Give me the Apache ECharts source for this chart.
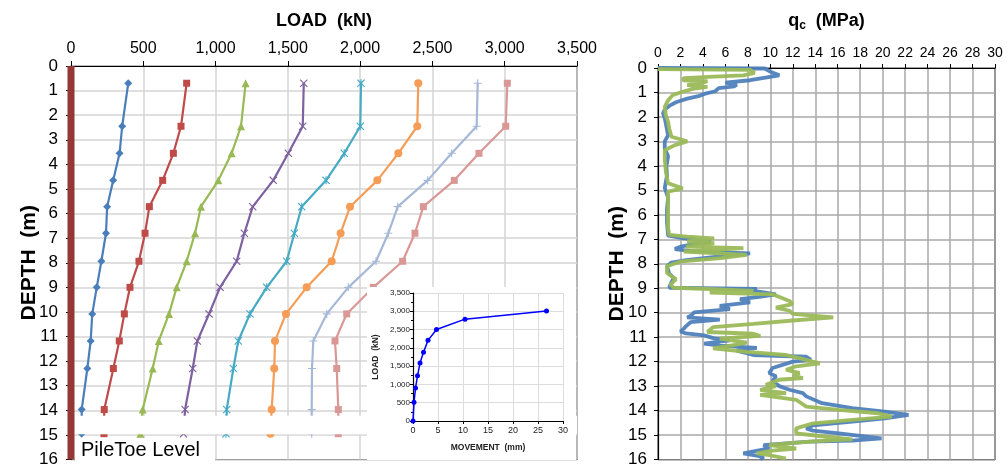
<!DOCTYPE html>
<html>
<head>
<meta charset="utf-8">
<script src="https://cdn.jsdelivr.net/npm/echarts@6/dist/echarts.min.js"></script>
<style>html,body{margin:0;padding:0;background:#fff;}#c{width:1007px;height:468px;}</style>
</head>
<body>
<div id="c"></div>
<script>
// ---------- DATA ----------
// Load distribution: gauge depths (m) and load (kN) for each load stage
const gaugeDepths = [0.7, 2.45, 3.55, 4.65, 5.72, 6.8, 7.94, 9.0, 10.08, 11.18, 12.3, 13.97, 14.95];
const load1 = [396, 354, 336, 292, 250, 242, 210, 178, 147, 136, 113, 74, 74];
const load2 = [800, 761, 708, 634, 542, 512, 470, 408, 369, 334, 293, 230, 228];
const load3 = [1208, 1176, 1111, 1019, 899, 858, 800, 731, 678, 607, 565, 496, 480];
const load4 = [1610, 1603, 1503, 1399, 1257, 1199, 1146, 1031, 955, 874, 842, 789, 778];
const load5 = [2006, 2001, 1890, 1764, 1596, 1545, 1492, 1354, 1238, 1157, 1123, 1077, 1072];
const load6 = [2402, 2395, 2264, 2119, 1930, 1865, 1803, 1630, 1487, 1411, 1406, 1388, 1380];
const load7 = [2813, 2806, 2633, 2467, 2260, 2195, 2110, 1918, 1769, 1676, 1667, 1665, 1665];
const load8 = [3018, 3007, 2822, 2651, 2437, 2379, 2294, 2091, 1907, 1826, 1838, 1849, 1849];
const loadTicks = [0, 500, 1000, 1500, 2000, 2500, 3000, 3500];

// Inset: load-movement curve
const movementMm = [0, 0.2, 0.5, 0.9, 1.4, 2.1, 3.0, 4.7, 10.4, 26.7];
const headLoadKn = [0, 510, 900, 1235, 1585, 1880, 2205, 2500, 2785, 3005];

// CPT qc profiles: [depth (m), qc (MPa)]
const cptBlue = [[0,0],[0.02,9.5],[0.15,10.0],[0.3,10.8],[0.38,9.7],[0.5,8.2],[0.6,6.0],[0.68,7.0],[0.75,6.8],[0.82,5.4],[0.95,5.1],[1.05,4.2],[1.15,3.6],[1.25,2.6],[1.4,1.6],[1.55,1.0],[1.7,0.6],[1.85,0.45],[2.05,0.6],[2.4,0.75],[2.75,0.9],[3.0,0.6],[3.3,0.6],[3.6,0.9],[4.0,0.75],[4.4,0.8],[4.9,0.6],[5.3,0.9],[5.75,0.8],[6.3,0.8],[6.85,0.9],[6.95,2.2],[7.05,4.0],[7.12,4.7],[7.2,3.2],[7.3,2.0],[7.4,1.5],[7.48,3.0],[7.58,8.2],[7.65,6.5],[7.75,4.5],[7.85,2.5],[7.95,1.2],[8.1,0.8],[8.4,1.0],[8.58,1.4],[8.85,1.1],[8.98,1.0],[9.03,8.8],[9.1,8.4],[9.25,10.5],[9.35,9.0],[9.45,7.3],[9.58,8.2],[9.72,5.5],[9.85,6.4],[9.99,3.2],[10.1,3.0],[10.19,2.6],[10.28,5.5],[10.39,2.9],[10.55,2.5],[10.65,2.3],[10.77,2.0],[10.85,2.5],[10.93,4.1],[11.05,5.0],[11.13,6.4],[11.26,4.1],[11.35,5.5],[11.44,8.8],[11.55,7.0],[11.73,8.5],[11.8,13.2],[11.92,13.6],[12.0,12.0],[12.26,10.2],[12.47,9.9],[12.6,10.5],[12.8,10.2],[13.0,10.8],[13.15,11.7],[13.29,12.9],[13.42,13.2],[13.7,14.6],[13.9,17.3],[14.04,20.2],[14.18,22.3],[14.32,20.2],[14.45,17.3],[14.6,13.8],[14.73,13.2],[14.82,13.8],[14.93,16.1],[15.14,19.9],[15.23,17.3],[15.27,13.5],[15.34,11.4],[15.41,9.4],[15.55,9.9],[15.62,9.1],[15.75,7.6],[15.82,8.5],[15.89,9.4],[16.0,9.1]];
const cptGreen = [[0.05,0],[0.08,8.2],[0.2,8.6],[0.3,7.6],[0.35,5.0],[0.41,2.3],[0.5,2.2],[0.54,4.4],[0.62,3.8],[0.7,2.6],[0.77,4.4],[0.84,3.2],[0.98,2.1],[1.11,1.3],[1.32,0.9],[1.59,0.6],[1.93,0.7],[2.2,0.9],[2.47,1.0],[2.81,1.2],[3.0,2.6],[3.15,1.5],[3.36,0.6],[3.7,0.6],[4.24,0.7],[4.71,0.9],[4.92,2.2],[5.05,0.9],[5.46,0.9],[6.0,0.9],[6.55,0.9],[6.82,1.0],[6.89,2.6],[6.96,5.0],[7.09,2.6],[7.16,5.0],[7.3,2.5],[7.36,7.6],[7.5,2.3],[7.64,7.9],[7.77,5.6],[7.9,2.1],[8.1,0.8],[8.38,0.8],[8.64,1.6],[8.85,1.1],[8.98,1.4],[9.05,5.5],[9.11,8.5],[9.18,4.6],[9.25,10.2],[9.52,11.7],[9.65,12.0],[9.79,10.5],[9.92,11.7],[10.05,12.0],[10.19,15.6],[10.32,12.0],[10.46,8.5],[10.59,4.9],[10.79,4.4],[10.86,8.5],[10.95,9.1],[11.06,5.5],[11.22,7.9],[11.33,6.7],[11.46,4.9],[11.6,7.9],[11.73,11.4],[11.85,12.5],[12.07,14.4],[12.19,12.3],[12.33,11.4],[12.47,12.6],[12.58,12.0],[12.67,12.9],[12.74,10.8],[12.95,9.6],[13.0,10.5],[13.15,9.1],[13.29,11.4],[13.36,9.1],[13.56,12.3],[13.84,13.2],[13.97,16.1],[14.11,19.6],[14.25,20.8],[14.38,17.3],[14.52,13.8],[14.73,12.3],[14.93,12.3],[15.04,14.4],[15.18,17.3],[15.23,14.9],[15.32,12.0],[15.41,9.9],[15.55,12.3],[15.64,10.2],[15.75,8.8],[15.82,9.9],[15.96,11.4]];

// ---------- CHART ----------
const FONT = 'Liberation Sans, Arial, sans-serif';
const fmt = v => Number(v).toLocaleString('en-US');
const X_SYM = 'path://M0,1L1,0L5,4L9,0L10,1L6,5L10,9L9,10L5,6L1,10L0,9L4,5Z';
const STAR_SYM = 'path://M0,1L1,0L4.3,3.3V0H5.7V3.3L9,0L10,1L6.4,4.6L6.4,5.4L10,9L9,10L5.7,6.7V10H4.3V6.7L1,10L0,9L3.6,5.4L3.6,4.6Z';
const PLUS_SYM = 'path://M4.3,0H5.7V4.3H10V5.7H5.7V10H4.3V5.7H0V4.3H4.3Z';
const DASH_SYM = 'path://M0,4.3H10V5.7H0Z';

const stages = [
  {d: load1, c: '#4a7ebb', s: 'diamond', size: 8},
  {d: load2, c: '#be4b48', s: 'rect', size: 7},
  {d: load3, c: '#98b954', s: 'triangle', size: 8},
  {d: load4, c: '#7d60a0', s: X_SYM, size: 8},
  {d: load5, c: '#46aac5', s: STAR_SYM, size: 8},
  {d: load6, c: '#f59d56', s: 'circle', size: 8},
  {d: load7, c: '#a5b8d7', s: PLUS_SYM, size: 8},
  {d: load8, c: '#d99795', s: DASH_SYM, size: 7}
];

const series = stages.map(st => ({
  type: 'line', xAxisIndex: 0, yAxisIndex: 0, z: 2,
  data: st.d.map((v, i) => [v, gaugeDepths[i]]),
  symbol: st.s, symbolSize: st.size, showSymbol: true,
  lineStyle: {color: st.c, width: 2.2},
  itemStyle: {color: st.c},
  animation: false
}));

// white band that hides the stretch just above the pile toe
series.push({
  type: 'line', xAxisIndex: 0, yAxisIndex: 0, z: 3, data: [[0, 14.5]], symbol: 'none',
  lineStyle: {width: 0}, silent: true, animation: false,
  markArea: {silent: true, z: 4, itemStyle: {color: '#ffffff'},
    data: [[{coord: [0, 14.22]}, {coord: [3500, 14.97]}]]}
});
// pile shaft
series.push({
  type: 'line', xAxisIndex: 0, yAxisIndex: 0, z: 4, data: [[0, 0], [0, 16]], symbol: 'none', clip: false,
  lineStyle: {color: '#953735', width: 7, cap: 'butt'}, animation: false
});
// CPT
series.push({
  type: 'line', xAxisIndex: 1, yAxisIndex: 1, z: 2, data: cptBlue.map(p => [p[1], p[0]]),
  symbol: 'none', lineStyle: {color: '#4f81bd', width: 3.8, opacity: 0.95}, animation: false
});
series.push({
  type: 'line', xAxisIndex: 1, yAxisIndex: 1, z: 2, data: cptGreen.map(p => [p[1], p[0]]),
  symbol: 'none', lineStyle: {color: '#9bbb59', width: 3.8, opacity: 0.95}, animation: false
});
// inset
series.push({
  type: 'line', xAxisIndex: 2, yAxisIndex: 2, z: 8, data: movementMm.map((m, i) => [m, headLoadKn[i]]),
  symbol: 'circle', symbolSize: 5, lineStyle: {color: '#0000ff', width: 1.5}, itemStyle: {color: '#0000ff'},
  animation: false
});

const black = {show: true, lineStyle: {color: '#000', width: 1.2}};
const option = {
  animation: false,
  textStyle: {fontFamily: FONT},
  grid: [
    {left: 71, top: 66, width: 506, height: 396, show: true, borderColor: '#000', borderWidth: 1.2},
    {left: 658, top: 68, width: 337, height: 392, show: true, borderColor: '#000', borderWidth: 1.2},
    {left: 413, top: 293, width: 150, height: 128, z: 6}
  ],
  graphic: [
    {type: 'rect', z: 5, shape: {x: 367, y: 287, width: 209, height: 173}, style: {fill: '#fff'}},
    {type: 'rect', z: 5, shape: {x: 75, y: 438, width: 140, height: 23}, style: {fill: '#fff'}},
    {type: 'text', z: 5, x: 81, y: 450, style: {text: 'PileToe Level', font: '20px ' + FONT, fill: '#000', verticalAlign: 'middle'}}
  ],
  xAxis: [
    {gridIndex: 0, type: 'value', position: 'top', min: 0, max: 3500, interval: 500,
     axisLine: black, axisTick: {show: true, inside: false, length: 5, lineStyle: {color: '#000'}},
     axisLabel: {fontSize: 16, color: '#000', margin: 9, formatter: v => loadTicks.includes(v) ? fmt(v) : ''},
     splitLine: {show: true, lineStyle: {color: '#d4d4d4', width: 1.5}},
     name: 'LOAD  (kN)', nameLocation: 'middle', nameGap: 36, nameMoveOverlap: false,
     nameTextStyle: {fontSize: 18, fontWeight: 'bold', color: '#000'}},
    {gridIndex: 1, type: 'value', position: 'top', min: 0, max: 30, interval: 2,
     axisLine: black, axisTick: {show: true, inside: false, length: 4, lineStyle: {color: '#000'}},
     axisLabel: {fontSize: 14, color: '#000', margin: 8},
     splitLine: {show: true, lineStyle: {color: '#a8a8a8', width: 1.5}},
     name: '{q|q}{c|c}{q|  (MPa)}', nameLocation: 'middle', nameGap: 36, nameMoveOverlap: false,
     nameTextStyle: {rich: {
       q: {fontSize: 18, fontWeight: 'bold', color: '#000', fontFamily: FONT, lineHeight: 22},
       c: {fontSize: 12, fontWeight: 'bold', color: '#000', fontFamily: FONT, lineHeight: 22, verticalAlign: 'bottom', padding: [8, 0, 0, 0]}
     }}},
    {gridIndex: 2, type: 'value', min: 0, max: 30, interval: 5, z: 7,
     axisLine: black, axisTick: {show: true, inside: false, length: 3, lineStyle: {color: '#000'}},
     axisLabel: {fontSize: 9, color: '#222', margin: 5},
     splitLine: {show: true, lineStyle: {color: '#dcdcdc', width: 1}},
     name: 'MOVEMENT  (mm)', nameLocation: 'middle', nameGap: 22, nameMoveOverlap: false,
     nameTextStyle: {fontSize: 8.5, fontWeight: 'bold', color: '#222'}}
  ],
  yAxis: [
    {gridIndex: 0, type: 'value', inverse: true, min: 0, max: 16, interval: 1,
     axisLine: black, axisTick: {show: true, inside: false, length: 5, lineStyle: {color: '#000'}},
     axisLabel: {fontSize: 17, color: '#000', margin: 13},
     splitLine: {show: true, lineStyle: {color: '#d4d4d4', width: 1.5}},
     name: 'DEPTH  (m)', nameLocation: 'middle', nameGap: 31, nameMoveOverlap: false,
     nameTextStyle: {fontSize: 21, fontWeight: 'bold', color: '#000'}},
    {gridIndex: 1, type: 'value', inverse: true, min: 0, max: 16, interval: 1,
     axisLine: black, axisTick: {show: true, inside: false, length: 4, lineStyle: {color: '#000'}},
     axisLabel: {fontSize: 17, color: '#000', margin: 11},
     splitLine: {show: true, lineStyle: {color: '#a8a8a8', width: 1.5}},
     name: 'DEPTH  (m)', nameLocation: 'middle', nameGap: 30, nameMoveOverlap: false,
     nameTextStyle: {fontSize: 21, fontWeight: 'bold', color: '#000'}},
    {gridIndex: 2, type: 'value', min: 0, max: 3500, interval: 500, z: 7,
     axisLine: black, axisTick: {show: true, inside: false, length: 3, lineStyle: {color: '#000'}},
     minorTick: {show: true, splitNumber: 2, length: 2, lineStyle: {color: '#000'}},
     axisLabel: {fontSize: 8, color: '#222', margin: 3, formatter: v => fmt(v)},
     splitLine: {show: true, lineStyle: {color: '#dcdcdc', width: 1}},
     name: 'LOAD  (kN)', nameLocation: 'middle', nameGap: 33, nameMoveOverlap: false,
     nameTextStyle: {fontSize: 8.5, fontWeight: 'bold', color: '#222'}}
  ],
  series: series
};
const chart = echarts.init(document.getElementById('c'), null, {renderer: 'canvas'});
chart.setOption(option);
</script>
</body>
</html>
